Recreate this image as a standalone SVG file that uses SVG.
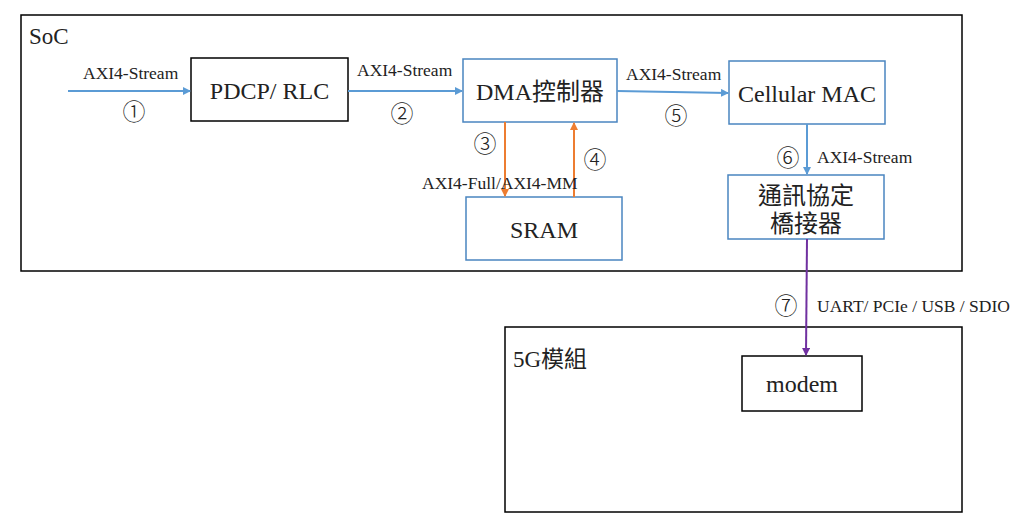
<svg xmlns="http://www.w3.org/2000/svg" width="1024" height="524" viewBox="0 0 1024 524">
<style>
text{font-family:"Liberation Serif","DejaVu Serif",serif;fill:#222}
.cjk{font-family:"Liberation Serif","Noto Sans CJK TC",serif}
.bk{fill:#fff;stroke:#000;stroke-width:1.5}
.bl{fill:#fff;stroke:#4a85c0;stroke-width:1.5}
.lb{font-size:17.5px}
.nl{font-size:24px;text-anchor:middle}
.c{font-size:23px;text-anchor:middle;font-family:"Noto Sans CJK TC",sans-serif;font-weight:300}
.ab{stroke:#5b9bd5;stroke-width:2;fill:none;marker-end:url(#mb)}
.ao{stroke:#ed7d31;stroke-width:2;fill:none;marker-end:url(#mo)}
.ap{stroke:#7030a0;stroke-width:2;fill:none;marker-end:url(#mp)}
</style>
<defs>
<marker id="mb" markerWidth="8" markerHeight="8" refX="7" refY="4" orient="auto" markerUnits="userSpaceOnUse"><path d="M0,0L8,4L0,8z" fill="#5b9bd5"/></marker>
<marker id="mo" markerWidth="8" markerHeight="8" refX="7" refY="4" orient="auto" markerUnits="userSpaceOnUse"><path d="M0,0L8,4L0,8z" fill="#ed7d31"/></marker>
<marker id="mp" markerWidth="8" markerHeight="8" refX="7" refY="4" orient="auto" markerUnits="userSpaceOnUse"><path d="M0,0L8,4L0,8z" fill="#7030a0"/></marker>
</defs>
<rect width="1024" height="524" fill="#fff"/>
<g id="soc"><rect class="bk" x="21" y="15" width="941" height="256"/><text x="29" y="44" font-size="23">SoC</text></g>
<g id="g5"><rect class="bk" x="505" y="327" width="457" height="185"/><text class="cjk" x="513" y="367" font-size="23">5G模組</text></g>
<g id="pdcp"><rect class="bk" x="191" y="58" width="157" height="63"/><text class="nl" x="269.5" y="99">PDCP/ RLC</text></g>
<g id="dma"><rect class="bl" x="463" y="59" width="154" height="63"/><text class="nl cjk" x="540" y="100">DMA控制器</text></g>
<g id="mac"><rect class="bl" x="729" y="61" width="156" height="63"/><text class="nl" x="807" y="102">Cellular MAC</text></g>
<g id="bridge"><rect class="bl" x="728" y="175" width="156" height="64"/><text class="nl cjk" x="806" y="204">通訊協定</text><text class="nl cjk" x="806" y="232">橋接器</text></g>
<g id="sram"><rect class="bl" x="466" y="197" width="156" height="63"/><text class="nl" x="544" y="238">SRAM</text></g>
<g id="modem"><rect class="bk" x="742" y="356" width="120" height="55"/><text class="nl" x="802" y="392">modem</text></g>
<g id="connectors">
<line class="ab" x1="68" y1="91" x2="190" y2="91"/>
<line class="ab" x1="348" y1="91" x2="462" y2="91"/>
<line class="ab" x1="617" y1="91" x2="728" y2="93"/>
<line class="ab" x1="807" y1="124" x2="807" y2="174"/>
<line class="ao" x1="505" y1="122" x2="505" y2="196"/>
<line class="ao" x1="574" y1="197" x2="574" y2="123"/>
<line class="ap" x1="807" y1="239" x2="806" y2="355"/>
<text class="lb" x="83" y="79">AXI4-Stream</text>
<text class="c" x="134" y="120">①</text>
<text class="lb" x="357" y="76">AXI4-Stream</text>
<text class="c" x="402" y="122">②</text>
<text class="c" x="485" y="152">③</text>
<text class="c" x="595" y="168">④</text>
<text class="lb" x="422" y="189">AXI4-Full/AXI4-MM</text>
<text class="lb" x="626" y="80">AXI4-Stream</text>
<text class="c" x="676" y="124">⑤</text>
<text class="c" x="788" y="166">⑥</text>
<text class="lb" x="817" y="163">AXI4-Stream</text>
<text class="c" x="786" y="314">⑦</text>
<text class="lb" x="817" y="312">UART/ PCIe / USB / SDIO</text>
</g>
</svg>
